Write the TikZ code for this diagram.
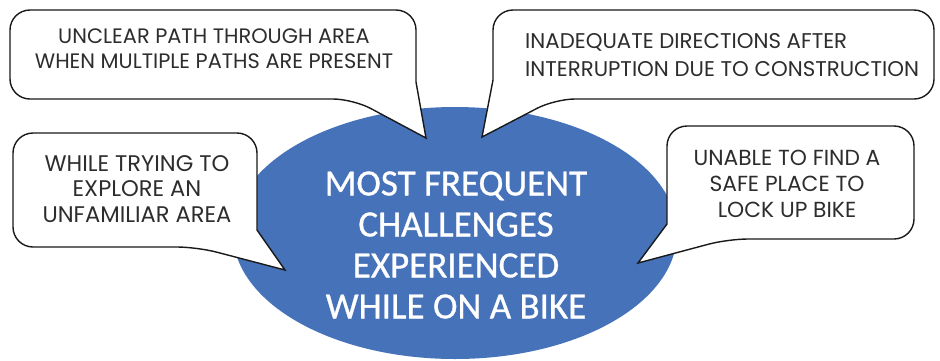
\documentclass[tikz,border=0pt]{standalone}
\usepackage{fontspec}
\newfontfamily\bubblefont{Poppins}
\newfontfamily\titlefont[FakeBold=0.8]{Carlito}
\definecolor{ovalblue}{RGB}{70,114,186}
\definecolor{bubbleink}{RGB}{45,45,45}
\tikzset{
  bubble/.style={draw=black!90,line width=1.4pt,fill=white,line join=miter},
  bubbletext/.style={inner sep=0pt,text=bubbleink},
  ovaltext/.style={inner sep=0pt,text=white,align=center,font=\titlefont\fontsize{37}{41}\selectfont}
}

\begin{document}
\begin{tikzpicture}[x=1pt,y=-1pt]
    \useasboundingbox (0,0) rectangle (940,360);
    % the oval
    \fill[ovalblue] (455,233) ellipse [x radius=222pt, y radius=126pt];
    \node[ovaltext] (challenges) at (456,245) {MOST FREQUENT\\CHALLENGES\\EXPERIENCED\\WHILE ON A BIKE};
    % speech bubbles
    \draw[bubble,rounded corners=20pt] (200,10) -- (10,10) -- (10,99) -- (353,99) [sharp corners] -- (426,138) -- (416,82) [rounded corners=20pt] -- (416,10) -- (300,10) -- cycle;
    \draw[bubble,rounded corners=20pt] (700,10) -- (934,10) -- (934,99) -- (555,99) [sharp corners] -- (482,137) -- (493,80) [rounded corners=20pt] -- (493,10) -- (600,10) -- cycle;
    \draw[bubble,rounded corners=20pt] (130,133) -- (13,133) -- (13,247) -- (197,247) [sharp corners] -- (285,270) -- (257,230) [rounded corners=20pt] -- (257,133) -- (200,133) -- cycle;
    \draw[bubble,rounded corners=20pt] (790,126) -- (914,126) -- (914,239) -- (728,239) [sharp corners] -- (638,263) -- (667,224) [rounded corners=20pt] -- (667,126) -- (720,126) -- cycle;
    \node[bubbletext,align=center,font=\bubblefont\fontsize{20.9}{25.5}\selectfont] (unclear) at (214,48.5) {UNCLEAR PATH THROUGH AREA\\WHEN MULTIPLE PATHS ARE PRESENT};
    \node[bubbletext,align=left,anchor=west,font=\bubblefont\fontsize{21.3}{27.5}\selectfont] (inadequate) at (525,55) {INADEQUATE DIRECTIONS AFTER\\INTERRUPTION DUE TO CONSTRUCTION};
    \node[bubbletext,align=center,font=\bubblefont\fontsize{22.6}{25.5}\selectfont] (explore) at (137,189) {WHILE TRYING TO\\EXPLORE AN\\UNFAMILIAR AREA};
    \node[bubbletext,align=center,font=\bubblefont\fontsize{21.8}{26}\selectfont] (lockup) at (787,184) {UNABLE TO FIND A\\SAFE PLACE TO\\LOCK UP BIKE};
\end{tikzpicture}
\end{document}
